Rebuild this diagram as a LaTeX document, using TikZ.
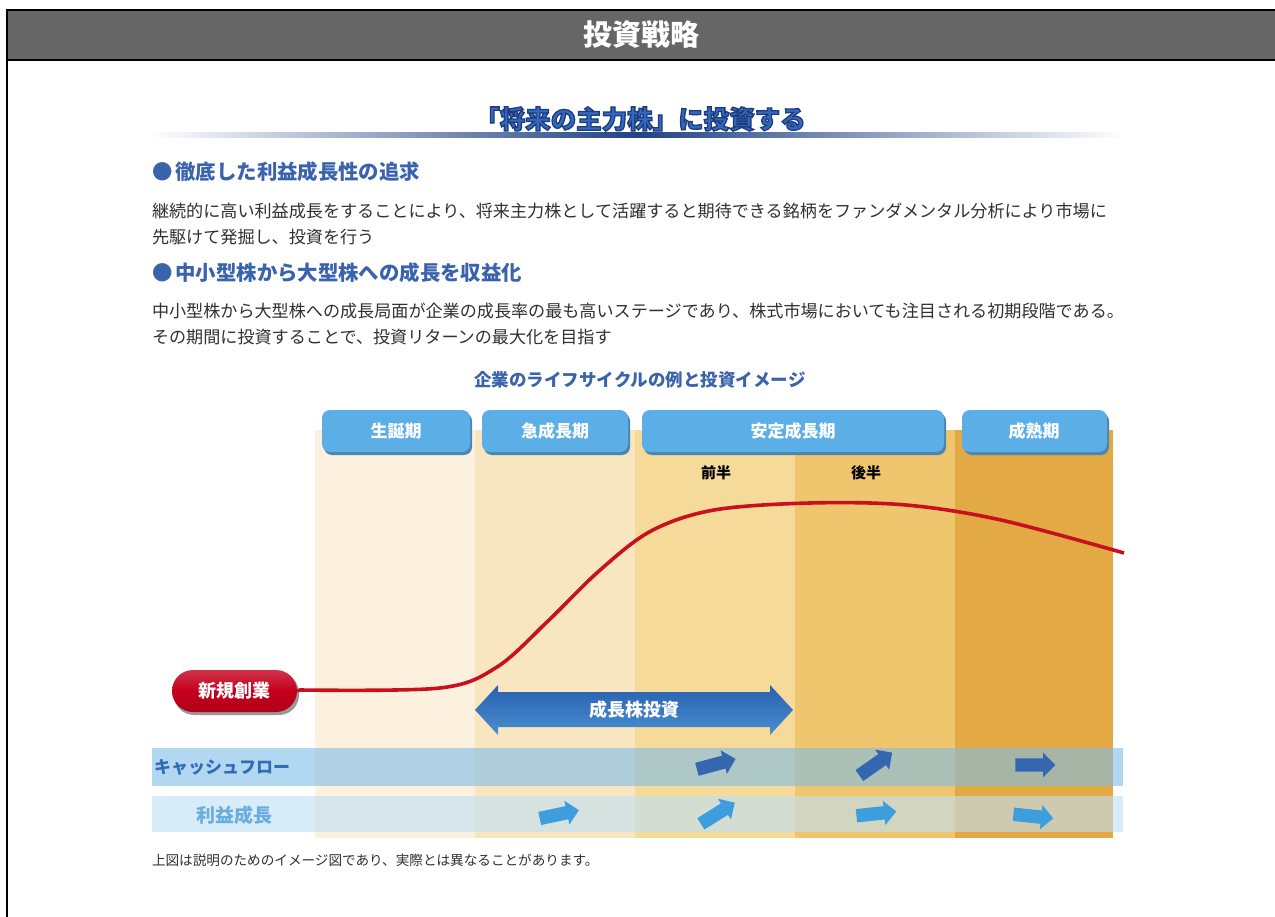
\documentclass[tikz,border=0pt]{standalone}
\usepackage{fontspec}
\setmainfont{Noto Sans CJK JP}
\usetikzlibrary{shapes.arrows,shapes.misc}
\definecolor{hdrgrey}{HTML}{666666}
\definecolor{headblue}{HTML}{3A63AE}
\definecolor{titleblue}{HTML}{3268C0}
\definecolor{navyd}{HTML}{1E3C7A}
\definecolor{bodygrey}{HTML}{303030}
\definecolor{tabblue}{HTML}{5CAEE6}
\definecolor{tabshadow}{HTML}{4A86B0}
\definecolor{colA}{HTML}{FBF1DE}
\definecolor{colB}{HTML}{F8E6C0}
\definecolor{colC}{HTML}{F5DA9A}
\definecolor{colD}{HTML}{EFC66E}
\definecolor{colE}{HTML}{E3A945}
\definecolor{curvered}{HTML}{C8101E}
\definecolor{pillred}{HTML}{C4001C}
\definecolor{cfband}{HTML}{7FBDE8}
\definecolor{rgband}{HTML}{BFE0F6}
\definecolor{cfarrow}{HTML}{3566B0}
\definecolor{rgarrow}{HTML}{3D9EDE}
\definecolor{cflabel}{HTML}{2F6DB5}
\definecolor{rglabel}{HTML}{6AAEE0}
\definecolor{gtop}{HTML}{2860B0}
\definecolor{gbot}{HTML}{4A8FD0}
\newcommand\myfs[1]{\fontsize{#1}{#1}\selectfont}
\newcommand\navyoutline[1]{\special{pdf:literal direct 2 Tr 1.3 w 0.118 0.235 0.478 RG}#1\special{pdf:literal direct 0 Tr}}
\tikzset{
  plain/.style={inner sep=0pt, outer sep=0pt},
  bodytext/.style={plain, anchor=west, text=bodygrey, font=\myfs{17.1}},
  headtext/.style={plain, anchor=west, text=headblue, font=\myfs{20.4}\bfseries},
  tabbox/.style={rounded corners=8pt, fill=tabblue},
  tabtext/.style={plain, text=white, font=\myfs{17}\bfseries},
  halftext/.style={plain, text=black, font=\myfs{15}\bfseries},
  cfarr/.style={single arrow, fill=cfarrow, minimum height=40pt, inner xsep=0pt, inner ysep=6.5pt, single arrow head extend=5.5pt, single arrow head indent=0pt, outer sep=0pt},
  rgarr/.style={cfarr, fill=rgarrow},
}
\begin{document}
\begin{tikzpicture}[x=1pt,y=-1pt]
\useasboundingbox (0,0) rectangle (1275,917);
% frame and header
\fill[white] (0,0) rectangle (1275,917);
\draw[black, line width=2pt, fill=hdrgrey] (7,10) rectangle (1280,60);
\draw[black, line width=2pt] (7,60) -- (7,920);
\node[plain, text=white, font=\myfs{29}\bfseries] (hdr) at (641,35) {投資戦略};
% title
\shade[left color=white, right color=white, middle color=navyd!85!titleblue] (150,133) rectangle (1125,138);
\node[plain, text=titleblue, font=\myfs{25.5}\bfseries] (title) at (640,119) {\navyoutline{「将来の主力株」に投資する}};
% text blocks
\node[headtext] (h1) at (152,172) {●\hspace{3pt}徹底した利益成長性の追求};
\node[bodytext] (b1) at (152,211) {継続的に高い利益成長をすることにより、将来主力株として活躍すると期待できる銘柄をファンダメンタル分析により市場に};
\node[bodytext] (b2) at (152,237) {先駆けて発掘し、投資を行う};
\node[headtext] (h2) at (152,273) {●\hspace{3pt}中小型株から大型株への成長を収益化};
\node[bodytext] (b3) at (152,311) {中小型株から大型株への成長局面が企業の成長率の最も高いステージであり、株式市場においても注目される初期段階である。};
\node[bodytext] (b4) at (152,337) {その期間に投資することで、投資リターンの最大化を目指す};
\node[plain, text=headblue, font=\myfs{17.5}\bfseries] (sub) at (640,380) {企業のライフサイクルの例と投資イメージ};
% columns
\fill[colA] (315,430) rectangle (475,838);
\fill[colB] (475,430) rectangle (635,838);
\fill[colC] (635,430) rectangle (795,838);
\fill[colD] (795,430) rectangle (955,838);
\fill[colE] (955,430) rectangle (1113,838);
% tabs
\fill[tabshadow, rounded corners=8pt] (324,413) rectangle (472,455);
\fill[tabshadow, rounded corners=8pt] (484,413) rectangle (630,455);
\fill[tabshadow, rounded corners=8pt] (644,413) rectangle (946,455);
\fill[tabshadow, rounded corners=8pt] (964,413) rectangle (1109,455);
\fill[tabbox] (322,410) rectangle (470,452);
\fill[tabbox] (482,410) rectangle (628,452);
\fill[tabbox] (642,410) rectangle (944,452);
\fill[tabbox] (962,410) rectangle (1107,452);
\node[tabtext] (t1) at (396,431) {生誕期};
\node[tabtext] (t2) at (555,431) {急成長期};
\node[tabtext] (t3) at (793,431) {安定成長期};
\node[tabtext] (t4) at (1034,431) {成熟期};
\node[halftext] (zh) at (716,473) {前半};
\node[halftext] (kh) at (866,473) {後半};
% bands
\fill[cfband, opacity=0.6] (152,748) rectangle (1123,786);
\fill[rgband, opacity=0.6] (152,796) rectangle (1123,832);
\node[plain, text=cflabel, font=\myfs{17}\bfseries] (cf) at (222,767) {キャッシュフロー};
\node[plain, text=rglabel, font=\myfs{19}\bfseries] (rg) at (234,815) {利益成長};
% arrows in bands
\node[cfarr, rotate=15] (c3) at (713,765) {};
\node[cfarr, rotate=35] (c4) at (873,766) {};
\node[cfarr] (c5) at (1032,765) {};
\node[rgarr, rotate=12] (r2) at (556,815) {};
\node[rgarr, rotate=32] (r3) at (715,815) {};
\node[rgarr, rotate=6] (r4) at (873,814) {};
\node[rgarr, rotate=-6] (r5) at (1030,816) {};
% start pill
\fill[black!40, rounded corners=20pt] (174,673) rectangle (299,715);
\node[plain, rounded rectangle, minimum width=125pt, minimum height=42pt, top color=pillred!80!white, bottom color=pillred!90!black, middle color=pillred, text=white, font=\myfs{18}\bfseries] (start) at (234.5,691) {新規創業};
% curve
\draw[curvered, line width=3.6pt, line join=round] (start.east) -- plot[smooth, tension=0.55] coordinates {(300,690) (440,688) (497,667) (548,621) (599,571) (651,531) (714,510) (810,503) (906,505) (1001,520) (1124,553)};
% double arrow
\shade[top color=gtop, bottom color=gbot] (475,710) -- (498,685) -- (498,692) -- (770,692) -- (770,685) -- (793,710) -- (770,735) -- (770,727) -- (498,727) -- (498,735) -- cycle;
\node[plain, text=white, font=\myfs{18}\bfseries] (gi) at (634,710) {成長株投資};
% footnote
\node[plain, anchor=west, text=bodygrey, font=\myfs{13.6}] (fn) at (152,860) {上図は説明のためのイメージ図であり、実際とは異なることがあります。};
\end{tikzpicture}
\end{document}
